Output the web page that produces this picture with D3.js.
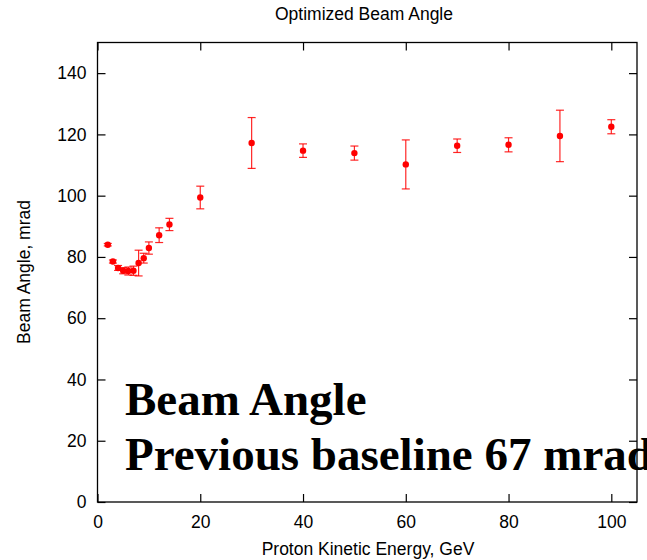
<!DOCTYPE html>
<html>
<head>
<meta charset="utf-8">
<script src="https://cdn.jsdelivr.net/npm/d3@7"></script>
<style>
  body { margin: 0; background: #fff; }
  svg { display: block; }
  text { font-family: "Liberation Sans", Arial, sans-serif; }
</style>
</head>
<body>
<div id="chart"></div>
<script>
// beam angle vs proton energy
let energy = [2, 3, 4, 5, 6, 7, 8, 9, 10, 12, 14, 20, 30, 40, 50, 60, 70, 80, 90, 100]
let angle  = [84.0, 78.5, 76.4, 75.5, 75.4, 75.5, 78.0, 79.6, 82.9, 87.1, 90.6, 99.4, 117.2, 114.7, 113.9, 110.2, 116.3, 116.6, 119.5, 122.5]
let angleErr = [0.4, 0.5, 0.8, 1.0, 1.3, 1.5, 4.2, 1.6, 2.0, 2.4, 2.0, 3.7, 8.3, 2.2, 2.3, 8.0, 2.2, 2.3, 8.4, 2.3]

let xTicks = [0, 20, 40, 60, 80, 100]
let yTicks = [0, 20, 40, 60, 80, 100, 120, 140]
let noteLines = ['Beam Angle', 'Previous baseline 67 mrad']

let W = 647, H = 560
let padL = 97.5, padR = 637, padT = 42.5, padB = 502
let tickLen = 8

let svg = d3.select('#chart').append('svg')
    .attr('width', W)
    .attr('height', H)

let x = d3.scaleLinear().domain([0, 105]).range([padL, padR])
let y = d3.scaleLinear().domain([0, 150]).range([padB, padT])

let pts = energy.map((e, i) => ({ e: e, a: angle[i], err: angleErr[i] }))

// axes: gnuplot style, ticks pointing inward on all sides
svg.append('g').attr('transform', `translate(0,${padB})`)
    .call(d3.axisBottom(x).tickValues(xTicks).tickSize(-tickLen).tickPadding(14).tickFormat(d3.format('d')))
svg.append('g').attr('transform', `translate(0,${padT})`)
    .call(d3.axisTop(x).tickValues(xTicks).tickSize(-tickLen).tickFormat(''))
svg.append('g').attr('transform', `translate(${padL},0)`)
    .call(d3.axisLeft(y).tickValues(yTicks).tickSize(-tickLen).tickPadding(11).tickFormat(d3.format('d')))
svg.append('g').attr('transform', `translate(${padR},0)`)
    .call(d3.axisRight(y).tickValues(yTicks).tickSize(-tickLen).tickFormat(''))

svg.selectAll('.domain').remove()
svg.selectAll('.tick line').attr('stroke', '#000').attr('stroke-width', 1.2)
svg.selectAll('.tick text')
    .attr('fill', '#000')
    .style('font-family', '"Liberation Sans", Arial, sans-serif')
    .style('font-size', '17.5px')

svg.append('rect')
    .attr('x', padL).attr('y', padT)
    .attr('width', padR - padL).attr('height', padB - padT)
    .attr('fill', 'none')
    .attr('stroke', '#000')
    .attr('stroke-width', 1.3)

// error bars
let bars = svg.append('g')
    .attr('stroke', '#f00')
    .attr('stroke-width', 1.2)
    .attr('stroke-opacity', 0.85)

bars.selectAll('line.v').data(pts).enter().append('line')
    .attr('class', 'v')
    .attr('x1', d => x(d.e)).attr('x2', d => x(d.e))
    .attr('y1', d => y(d.a + d.err)).attr('y2', d => y(d.a - d.err))

bars.selectAll('line.top').data(pts).enter().append('line')
    .attr('class', 'top')
    .attr('x1', d => x(d.e) - 4).attr('x2', d => x(d.e) + 4)
    .attr('y1', d => y(d.a + d.err)).attr('y2', d => y(d.a + d.err))

bars.selectAll('line.bot').data(pts).enter().append('line')
    .attr('class', 'bot')
    .attr('x1', d => x(d.e) - 4).attr('x2', d => x(d.e) + 4)
    .attr('y1', d => y(d.a - d.err)).attr('y2', d => y(d.a - d.err))

svg.append('g').selectAll('circle').data(pts).enter().append('circle')
    .attr('cx', d => x(d.e))
    .attr('cy', d => y(d.a))
    .attr('r', 3.2)
    .attr('fill', '#f00')

// titles
svg.append('text')
    .attr('x', 364).attr('y', 20)
    .attr('text-anchor', 'middle')
    .style('font-size', '17.5px')
    .text('Optimized Beam Angle')

svg.append('text')
    .attr('x', 368).attr('y', 555)
    .attr('text-anchor', 'middle')
    .style('font-size', '17.5px')
    .text('Proton Kinetic Energy, GeV')

svg.append('text')
    .attr('transform', 'translate(30,272) rotate(-90)')
    .attr('text-anchor', 'middle')
    .style('font-size', '17.5px')
    .text('Beam Angle, mrad')

// big overlaid note
svg.append('g').selectAll('text').data(noteLines).enter().append('text')
    .attr('x', 125)
    .attr('y', (d, i) => 415 + i * 55)
    .style('font-family', '"Liberation Serif", "Times New Roman", serif')
    .style('font-weight', 'bold')
    .style('font-size', '47px')
    .text(d => d)
</script>
</body>
</html>
